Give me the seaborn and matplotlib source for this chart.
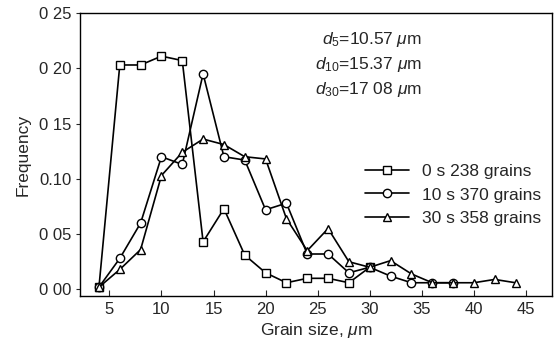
import pandas as pd
import matplotlib.pyplot as plt
import seaborn as sns

# Grain size bins (um)
size_0s = [4, 6, 8, 10, 12, 14, 16, 18, 20, 22, 24, 26, 28, 30]
freq_0s = [0.002, 0.203, 0.203, 0.211, 0.207, 0.043, 0.073, 0.031, 0.015, 0.006,
           0.010, 0.010, 0.006, 0.020]

size_10s = [4, 6, 8, 10, 12, 14, 16, 18, 20, 22, 24, 26, 28, 30, 32, 34, 36, 38]
freq_10s = [0.002, 0.028, 0.060, 0.120, 0.113, 0.195, 0.120, 0.117, 0.072, 0.078,
            0.032, 0.032, 0.015, 0.020, 0.012, 0.006, 0.006, 0.006]

size_30s = [4, 6, 8, 10, 12, 14, 16, 18, 20, 22, 24, 26, 28, 30, 32, 34, 36, 38, 40, 42, 44]
freq_30s = [0.002, 0.018, 0.036, 0.103, 0.124, 0.136, 0.131, 0.120, 0.118, 0.064,
            0.035, 0.055, 0.025, 0.020, 0.026, 0.014, 0.006, 0.006, 0.006, 0.009, 0.006]

labels = ['0 s 238 grains', '10 s 370 grains', '30 s 358 grains']
markers = ['s', 'o', '^']

x_ticks = [5, 10, 15, 20, 25, 30, 35, 40, 45]
y_ticks = [0.00, 0.05, 0.10, 0.15, 0.20, 0.25]
y_tick_labels = ['0 00', '0 05', '0.10', '0 15', '0 20', '0 25']

notes = [r'$d_5$=10.57 $\mu$m', r'$d_{10}$=15.37 $\mu$m', r'$d_{30}$=17 08 $\mu$m']

sns.set_style('ticks')
plt.rcParams['font.family'] = ['Liberation Sans', 'DejaVu Sans']
plt.rcParams['mathtext.fontset'] = 'custom'
plt.rcParams['mathtext.rm'] = 'Liberation Sans'
plt.rcParams['mathtext.it'] = 'Liberation Sans:italic'

fig = plt.figure(figsize=(5.57, 3.43), dpi=100)
ax = fig.add_axes([0.144, 0.137, 0.847, 0.825])

series = [(size_0s, freq_0s), (size_10s, freq_10s), (size_30s, freq_30s)]
for (xs, ys), lab, mk in zip(series, labels, markers):
    df = pd.DataFrame({'size': xs, 'freq': ys})
    sns.lineplot(data=df, x='size', y='freq', ax=ax, color='black', linewidth=1.2,
                 marker=mk, markersize=6 if mk != 's' else 5.5,
                 markerfacecolor='white', markeredgecolor='black',
                 markeredgewidth=1.0, label=lab)

ax.set_xlim(2.2, 47.5)
ax.set_ylim(-0.006, 0.25)
ax.set_xticks(x_ticks)
ax.set_yticks(y_ticks)
ax.set_yticklabels(y_tick_labels)
ax.tick_params(axis='x', direction='in', length=4, labelsize=12, pad=4)
ax.tick_params(axis='y', direction='out', length=3, labelsize=12, pad=3)
for s in ax.spines.values():
    s.set_visible(True)
    s.set_linewidth(1.0)
    s.set_color('black')

ax.set_xlabel('Grain size, $\\mu$m', fontsize=12.5, labelpad=3)
ax.set_ylabel('Frequency', fontsize=12.5, labelpad=6)

for i, t in enumerate(notes):
    ax.text(0.725, 0.905 - i * 0.087, t, transform=ax.transAxes, ha='right',
            va='center', fontsize=12.5)

ax.legend(loc='center right', bbox_to_anchor=(1.0, 0.357), frameon=False,
          fontsize=12.5, handlelength=2.5, handletextpad=0.8, labelspacing=0.5,
          borderaxespad=0.4, borderpad=0.2)

fig.savefig('out.png', dpi=100)
